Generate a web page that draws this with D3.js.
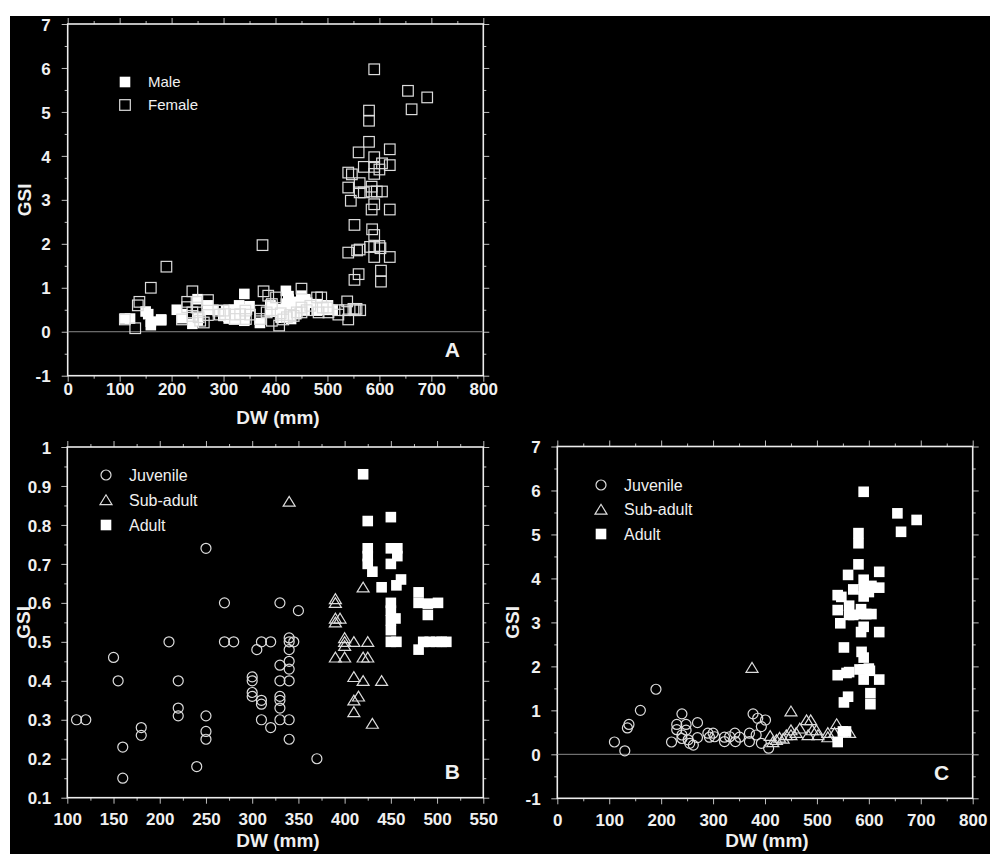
<!DOCTYPE html>
<html>
<head>
<meta charset="utf-8">
<script src="https://cdn.jsdelivr.net/npm/d3@7"></script>
<style>
  body { margin: 0; background: #fff; }
  svg { display: block; }
  text { font-family: "Liberation Sans", Arial, Helvetica, sans-serif; fill: #f0f0f0; }
</style>
</head>
<body>
<svg id="fig" width="990" height="854"></svg>
<script>
// male GSI by stage, [DW mm, GSI]
var maleJuvenile = [[110,0.30],[120,0.30],[150,0.46],[155,0.40],[160,0.23],[160,0.15],[180,0.28],[180,0.26],
  [210,0.50],[220,0.40],[220,0.33],[220,0.31],[240,0.18],[250,0.74],[250,0.31],[250,0.27],[250,0.25],
  [270,0.60],[270,0.50],[280,0.50],[300,0.41],[300,0.40],[300,0.37],[300,0.36],[305,0.48],[310,0.50],
  [310,0.35],[310,0.34],[310,0.30],[320,0.50],[320,0.28],[330,0.60],[330,0.44],[330,0.40],[330,0.36],
  [330,0.35],[330,0.33],[330,0.30],[340,0.51],[340,0.50],[340,0.48],[340,0.45],[340,0.43],[340,0.40],
  [340,0.30],[340,0.25],[345,0.50],[350,0.58],[370,0.20]];
var maleSubadult = [[340,0.86],[390,0.61],[390,0.60],[390,0.56],[395,0.56],[390,0.55],[400,0.51],[400,0.50],
  [400,0.49],[410,0.50],[425,0.50],[390,0.46],[400,0.46],[420,0.46],[425,0.46],[420,0.64],[410,0.41],
  [420,0.40],[440,0.40],[415,0.36],[410,0.35],[410,0.32],[430,0.29]];
var maleAdult = [[420,0.93],[425,0.81],[450,0.82],[425,0.74],[425,0.72],[425,0.70],[430,0.68],[440,0.64],
  [450,0.74],[457,0.74],[457,0.72],[450,0.70],[456,0.645],[461,0.66],[450,0.60],[450,0.58],[450,0.555],
  [455,0.56],[450,0.53],[450,0.50],[456,0.50],[480,0.627],[480,0.60],[490,0.598],[490,0.569],[501,0.60],
  [480,0.48],[485,0.50],[492,0.50],[499,0.50],[505,0.50],[510,0.50]];

// female GSI by stage
var femaleJuvenile = [[110,0.28],[130,0.08],[135,0.60],[138,0.68],[160,1.00],[190,1.48],[220,0.28],[230,0.68],
  [230,0.56],[240,0.92],[240,0.44],[240,0.36],[248,0.68],[248,0.55],[252,0.33],[255,0.25],[262,0.21],
  [270,0.72],[270,0.38],[290,0.48],[293,0.39],[300,0.48],[303,0.40],[322,0.29],[322,0.39],[332,0.40],
  [342,0.48],[343,0.29],[351,0.39],[370,0.48],[370,0.29],[377,0.92],[383,0.44],[386,0.82],[393,0.63],
  [393,0.25],[401,0.78],[407,0.14]];
var femaleSubadult = [[375,1.97],[450,0.98],[410,0.42],[415,0.28],[422,0.33],[428,0.38],[435,0.36],[441,0.44],
  [450,0.55],[450,0.44],[460,0.49],[467,0.59],[480,0.78],[488,0.78],[483,0.44],[491,0.55],[499,0.55],
  [502,0.44],[521,0.49],[521,0.39],[534,0.49],[538,0.69],[553,0.49],[563,0.49]];
var femaleAdult = [[540,0.28],[550,0.52],[556,0.52],[590,5.97],[655,5.48],[692,5.33],[662,5.06],[580,5.03],
  [580,4.80],[580,4.32],[560,4.08],[620,4.15],[590,3.97],[570,3.75],[590,3.75],[605,3.83],[620,3.79],
  [600,3.69],[590,3.59],[540,3.62],[547,3.58],[540,3.28],[562,3.38],[562,3.17],[570,3.17],[585,3.30],
  [585,3.19],[595,3.19],[605,3.19],[545,2.98],[590,2.90],[585,2.78],[620,2.78],[552,2.43],[586,2.33],
  [590,2.20],[582,1.93],[590,1.93],[600,1.95],[602,1.90],[562,1.87],[557,1.85],[540,1.80],[590,1.70],
  [620,1.70],[560,1.31],[552,1.18],[603,1.39],[603,1.14]];

// tick labels
var dwTicks = [0,100,200,300,400,500,600,700,800];
var gsiTicks = [-1,0,1,2,3,4,5,6,7];
var dwTicksB = [100,150,200,250,300,350,400,450,500,550];
var gsiTicksB = [0.1,0.2,0.3,0.4,0.5,0.6,0.7,0.8,0.9,1];

var svg = d3.select("#fig");
svg.append("rect").attr("x", 10).attr("y", 16).attr("width", 980).attr("height", 838).attr("fill", "#000");

function fmt(d){ return String(+d.toFixed(2)).replace("\u2212", "-"); }

function midpoints(v){
    var out = [];
    for (var i = 0; i < v.length - 1; i++) out.push((v[i] + v[i+1]) / 2);
    return out;
}

function symbol(g, shape, filled, cx, cy){
    var s;
    if (shape == "square"){
        s = g.append("rect").attr("x", cx - 5.3).attr("y", cy - 5.3).attr("width", 10.6).attr("height", 10.6);
    } else if (shape == "circle"){
        s = g.append("circle").attr("cx", cx).attr("cy", cy).attr("r", 5);
    } else {
        s = g.append("path").attr("d", "M" + (cx - 6) + "," + (cy + 4.6) + "L" + (cx + 6) + "," + (cy + 4.6) + "L" + cx + "," + (cy - 5.2) + "Z");
    }
    if (filled) s.attr("fill", "#fff").attr("stroke", "none");
    else s.attr("fill", "none").attr("stroke", "#dcdcdc").attr("stroke-width", 1.2);
}

function Panel(cfg){
    var self = this;
    self.cfg = cfg;
    self.x = d3.scaleLinear().domain(cfg.xDomain).range([cfg.left, cfg.right]);
    self.y = d3.scaleLinear().domain(cfg.yDomain).range([cfg.bottom, cfg.top]);
    self.g = svg.append("g");
    self.init();
}

Panel.prototype.init = function(){
    var self = this, c = self.cfg, x = self.x, y = self.y;

    // axes on all four sides, ticks outward
    var sides = [
        {axis: d3.axisBottom(x), t: "translate(0," + c.bottom + ")", vals: c.xTicks, label: true, pad: c.xPad},
        {axis: d3.axisTop(x), t: "translate(0," + c.top + ")", vals: c.xTicks},
        {axis: d3.axisLeft(y), t: "translate(" + c.left + ",0)", vals: c.yTicks, label: true, pad: c.yPad},
        {axis: d3.axisRight(y), t: "translate(" + c.right + ",0)", vals: c.yTicks}
    ];
    sides.forEach(function(s, i){
        var ax = (i < 2 ? [d3.axisBottom, d3.axisTop][i](x) : [d3.axisLeft, d3.axisRight][i - 2](y));
        var minor = self.g.append("g").attr("transform", s.t)
            .call(ax.tickValues(midpoints(s.vals)).tickSize(3).tickSizeOuter(0).tickFormat(""));
        minor.select(".domain").remove();
        var major = self.g.append("g").attr("transform", s.t)
            .call(s.axis.tickValues(s.vals).tickSize(6).tickSizeOuter(0)
                .tickPadding(s.pad || 3).tickFormat(s.label ? fmt : ""));
        major.select(".domain").remove();
        major.selectAll("text").attr("fill", "#f0f0f0").style("font-size", "17px").style("font-weight", "bold")
            .style("font-family", "'Liberation Sans', Arial, sans-serif");
        if (i >= 2) major.selectAll("text").attr("dy", "0.36em");
        self.g.selectAll(".tick line").attr("stroke", "#bdbdbd");
    });

    // frame
    self.g.append("rect")
        .attr("x", c.left).attr("y", c.top)
        .attr("width", c.right - c.left).attr("height", c.bottom - c.top)
        .attr("fill", "none").attr("stroke", "#ececec").attr("stroke-width", 1.6);

    if (c.zeroLine){
        self.g.append("line")
            .attr("x1", c.left).attr("x2", c.right)
            .attr("y1", y(0)).attr("y2", y(0))
            .attr("stroke", "#8a8a8a").attr("stroke-width", 1);
    }

    // points
    c.series.forEach(function(s){
        var pg = self.g.append("g");
        s.data.forEach(function(d){ symbol(pg, s.shape, s.filled, x(d[0]), y(d[1])); });
    });

    // legend
    c.legend.forEach(function(l, i){
        var ly = c.legendY + i * c.legendStep;
        symbol(self.g, l.shape, l.filled, c.legendX, ly);
        self.g.append("text").attr("x", c.legendX + c.legendGap).attr("y", ly).attr("dy", "0.36em")
            .style("font-size", c.legendFont + "px").text(l.label);
    });

    // titles
    self.g.append("text")
        .attr("transform", "translate(" + c.gsiX + "," + ((c.top + c.bottom) / 2) + ") rotate(-90)")
        .attr("text-anchor", "middle")
        .style("font-size", "19px").style("font-weight", "bold")
        .text("GSI");
    self.g.append("text")
        .attr("x", c.dwX).attr("y", c.dwY)
        .attr("text-anchor", "middle")
        .style("font-size", "19px").style("font-weight", "bold")
        .text("DW (mm)");
    self.g.append("text")
        .attr("x", c.right - 31).attr("y", c.bottom - 26).attr("dy", "0.36em")
        .attr("text-anchor", "middle")
        .style("font-size", "21px").style("font-weight", "bold")
        .text(c.letter);
};

var stageLegend = [
    {shape: "circle", filled: false, label: "Juvenile"},
    {shape: "triangle", filled: false, label: "Sub-adult"},
    {shape: "square", filled: true, label: "Adult"}
];

new Panel({
    left: 67.7, right: 483.3, top: 24, bottom: 375.7,
    xDomain: [0, 800], yDomain: [-1, 7], xTicks: dwTicks, yTicks: gsiTicks,
    xPad: 1.5, yPad: 11, zeroLine: true, letter: "A",
    gsiX: 31, dwX: 278, dwY: 424,
    series: [
        {data: maleJuvenile.concat(maleSubadult, maleAdult), shape: "square", filled: true},
        {data: femaleJuvenile.concat(femaleSubadult, femaleAdult), shape: "square", filled: false}
    ],
    legend: [{shape: "square", filled: true, label: "Male"}, {shape: "square", filled: false, label: "Female"}],
    legendX: 125, legendY: 82, legendStep: 23, legendGap: 23, legendFont: 15
});

new Panel({
    left: 67.3, right: 483.3, top: 447, bottom: 797.7,
    xDomain: [100, 550], yDomain: [0.1, 1], xTicks: dwTicksB, yTicks: gsiTicksB,
    xPad: 9.5, yPad: 10, zeroLine: false, letter: "B",
    gsiX: 30, dwX: 278, dwY: 847,
    series: [
        {data: maleJuvenile, shape: "circle", filled: false},
        {data: maleSubadult, shape: "triangle", filled: false},
        {data: maleAdult, shape: "square", filled: true}
    ],
    legend: stageLegend,
    legendX: 106, legendY: 475, legendStep: 25, legendGap: 23, legendFont: 16
});

new Panel({
    left: 557.3, right: 972.7, top: 446.5, bottom: 798.3,
    xDomain: [0, 800], yDomain: [-1, 7], xTicks: dwTicks, yTicks: gsiTicks,
    xPad: 9.5, yPad: 10.6, zeroLine: true, letter: "C",
    gsiX: 519, dwX: 767, dwY: 847,
    series: [
        {data: femaleJuvenile, shape: "circle", filled: false},
        {data: femaleSubadult, shape: "triangle", filled: false},
        {data: femaleAdult, shape: "square", filled: true}
    ],
    legend: stageLegend,
    legendX: 601, legendY: 485, legendStep: 24.5, legendGap: 23, legendFont: 16
});
</script>
</body>
</html>
